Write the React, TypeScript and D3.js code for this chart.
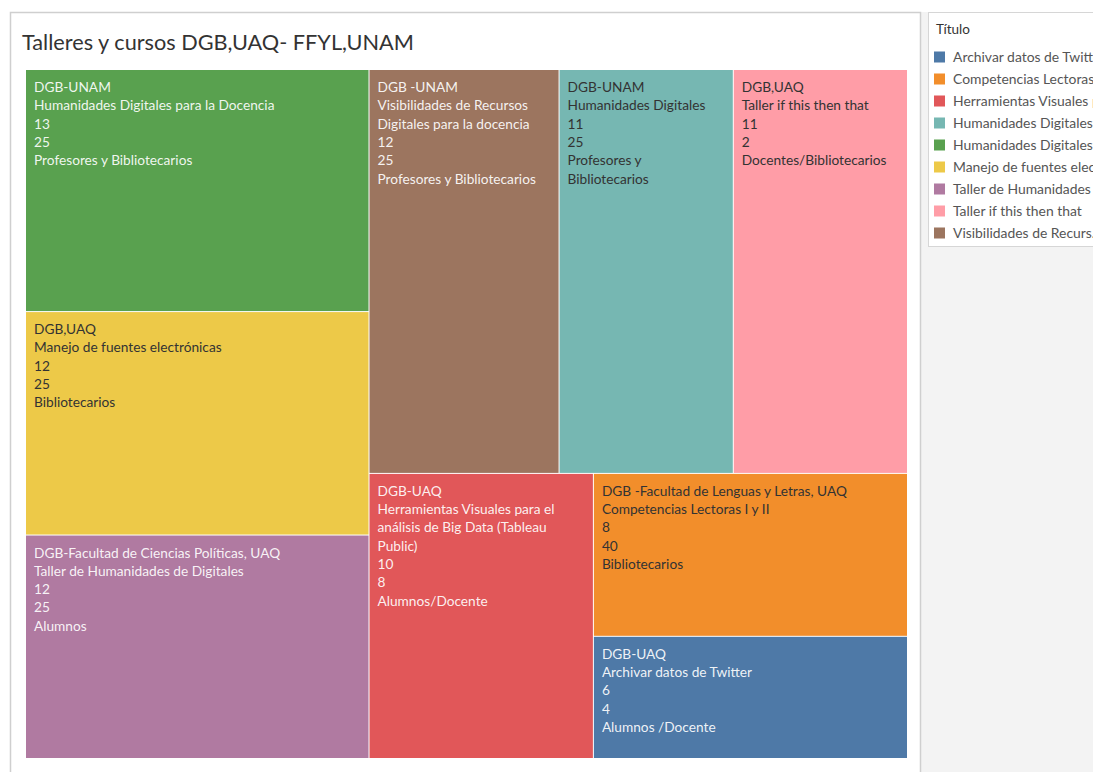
import React from "react";
import * as d3 from "d3";

const organizaciones = [
  "DGB-UNAM",
  "DGB,UAQ",
  "DGB-Facultad de Ciencias Políticas, UAQ",
  "DGB -UNAM",
  "DGB-UNAM",
  "DGB,UAQ",
  "DGB-UAQ",
  "DGB -Facultad de Lenguas y Letras, UAQ",
  "DGB-UAQ",
];
const titulos = [
  "Humanidades Digitales para la Docencia",
  "Manejo de fuentes electrónicas",
  "Taller de Humanidades de Digitales",
  "Visibilidades de Recursos Digitales para la docencia",
  "Humanidades Digitales",
  "Taller if this then that",
  "Herramientas Visuales para el análisis de Big Data (Tableau Public)",
  "Competencias Lectoras I y II",
  "Archivar datos de Twitter",
];
const horas = [13, 12, 12, 12, 11, 11, 10, 8, 6];
const participantes = [25, 25, 25, 25, 25, 2, 8, 40, 4];
const publico = [
  "Profesores y Bibliotecarios",
  "Bibliotecarios",
  "Alumnos",
  "Profesores y Bibliotecarios",
  "Profesores y Bibliotecarios",
  "Docentes/Bibliotecarios",
  "Alumnos/Docente",
  "Bibliotecarios",
  "Alumnos /Docente",
];

// legend (Tableau order, alphabetical) and colours
const legendTitles = [
  "Archivar datos de Twitter",
  "Competencias Lectoras I y II",
  "Herramientas Visuales para el análisis de Big Data (Tableau Public)",
  "Humanidades Digitales",
  "Humanidades Digitales para la Docencia",
  "Manejo de fuentes electrónicas",
  "Taller de Humanidades de Digitales",
  "Taller if this then that",
  "Visibilidades de Recursos Digitales para la docencia",
];
const legendLabels = [
  "Archivar datos de Twitter",
  "Competencias Lectoras I y II",
  "Herramientas Visuales par..",
  "Humanidades Digitales",
  "Humanidades Digitales par..",
  "Manejo de fuentes elec..",
  "Taller de Humanidades de..",
  "Taller if this then that",
  "Visibilidades de Recurs..",
];
const legendColors = [
  "#4e79a7",
  "#f28e2b",
  "#e15759",
  "#76b7b2",
  "#59a14f",
  "#edc948",
  "#b07aa1",
  "#ff9da7",
  "#9c755f",
];
const darkTextTitles = [
  "Competencias Lectoras I y II",
  "Humanidades Digitales",
  "Manejo de fuentes electrónicas",
  "Taller if this then that",
];

const FONT = "Lato, 'Open Sans', sans-serif";
const W = 1093;
const H = 772;
const plot = { x: 26, y: 70, w: 881, h: 688 };

let ctx: CanvasRenderingContext2D | null = null;
function measure(text: string, size: number) {
  if (!ctx) ctx = document.createElement("canvas").getContext("2d");
  if (!ctx) return text.length * size * 0.5;
  ctx.font = `${size}px Lato`;
  return ctx.measureText(text).width;
}
function wrap(text: string, maxW: number, size: number): string[] {
  const words = text.split(" ");
  const lines: string[] = [];
  let cur = "";
  for (const w of words) {
    const t = cur ? cur + " " + w : w;
    if (cur && measure(t, size) > maxW) {
      lines.push(cur);
      cur = w;
    } else cur = t;
  }
  if (cur) lines.push(cur);
  return lines;
}

export default function App() {
  const color = d3.scaleOrdinal<string, string>().domain(legendTitles).range(legendColors);

  const data = titulos.map((t, i) => ({
    titulo: t,
    org: organizaciones[i],
    horas: horas[i],
    part: participantes[i],
    pub: publico[i],
  }));

  const root = d3
    .hierarchy<any>({ children: data })
    .sum((d: any) => d.horas || 0)
    .sort((a, b) => (b.value || 0) - (a.value || 0));

  d3.treemap<any>()
    .tile(d3.treemapSquarify.ratio(1.54))
    .size([plot.w, plot.h])
    .paddingInner(1)(root);

  const leaves = root.leaves() as d3.HierarchyRectangularNode<any>[];
  const fs = 13.7;
  const lh = 18.3;

  return (
    <div style={{ position: "absolute", left: 0, top: 0 }}>
      <svg width={W} height={H} style={{ display: "block", fontFamily: FONT }}>
        <rect x={0} y={0} width={W} height={H} fill="#ffffff" />
        {/* right pane background */}
        <rect x={921} y={12} width={W - 921} height={H - 12} fill="#f3f3f3" />
        {/* sheet frame */}
        <rect x={10.5} y={12.5} width={910} height={H + 10} fill="#ffffff" stroke="#cfcfcf" strokeWidth={1.5} />
        <text x={22} y={49.5} fontSize={21.7} fill="#333">
          Talleres y cursos DGB,UAQ- FFYL,UNAM
        </text>

        <g transform={`translate(${plot.x},${plot.y})`}>
          {leaves.map((n, i) => {
            const d = n.data;
            const w = n.x1 - n.x0;
            const dark = darkTextTitles.includes(d.titulo);
            const lines = [
              ...wrap(d.org, w - 16, fs),
              ...wrap(d.titulo, w - 16, fs),
              String(d.horas),
              String(d.part),
              ...wrap(d.pub, w - 16, fs),
            ];
            return (
              <g key={i}>
                <rect x={n.x0} y={n.y0} width={w} height={n.y1 - n.y0} fill={color(d.titulo)} />
                <text
                  fontSize={fs}
                  fill={dark ? "#333333" : "#ffffff"}
                  fillOpacity={dark ? 1 : 0.92}
                >
                  {lines.map((l, j) => (
                    <tspan key={j} x={n.x0 + 8} y={n.y0 + 22 + j * lh}>
                      {l}
                    </tspan>
                  ))}
                </text>
              </g>
            );
          })}
        </g>

        {/* legend */}
        <rect x={928.5} y={12.5} width={200} height={234} fill="#ffffff" stroke="#d6d6d6" />
        <text x={936} y={34} fontSize={13.5} fill="#333">
          Título
        </text>
        {legendLabels.map((l, i) => (
          <g key={i}>
            <rect x={934} y={51.5 + i * 22} width={11} height={11} fill={legendColors[i]} />
            <text x={953} y={62 + i * 22} fontSize={13.9} fill="#555">
              {l}
            </text>
          </g>
        ))}
      </svg>
    </div>
  );
}
